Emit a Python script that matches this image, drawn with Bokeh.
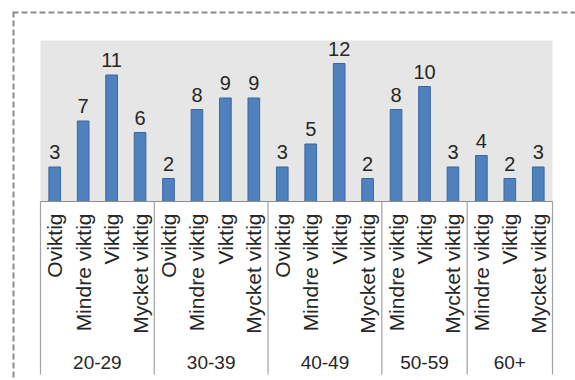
import math
from bokeh.plotting import figure
from bokeh.models import ColumnDataSource, Range1d, BoxAnnotation
from bokeh.core.properties import value
from bokeh.embed import file_html
from bokeh.resources import INLINE

# ---------------- data ----------------
age_groups = ["20-29", "30-39", "40-49", "50-59", "60+"]
labels_20_29 = ["Oviktig", "Mindre viktig", "Viktig", "Mycket viktig"]
counts_20_29 = [3, 7, 11, 6]
labels_30_39 = ["Oviktig", "Mindre viktig", "Viktig", "Mycket viktig"]
counts_30_39 = [2, 8, 9, 9]
labels_40_49 = ["Oviktig", "Mindre viktig", "Viktig", "Mycket viktig"]
counts_40_49 = [3, 5, 12, 2]
labels_50_59 = ["Mindre viktig", "Viktig", "Mycket viktig"]
counts_50_59 = [8, 10, 3]
labels_60 = ["Mindre viktig", "Viktig", "Mycket viktig"]
counts_60 = [4, 2, 3]
y_max = 14

group_labels = [labels_20_29, labels_30_39, labels_40_49, labels_50_59, labels_60]
group_counts = [counts_20_29, counts_30_39, counts_40_49, counts_50_59, counts_60]

# ---------------- flatten ----------------
xs, labs, vals = [], [], []
group_centers, boundaries = [], [-0.5]
i = 0
for labs_g, vals_g in zip(group_labels, group_counts):
    start = i
    for l, v in zip(labs_g, vals_g):
        xs.append(i)
        labs.append(l)
        vals.append(v)
        i += 1
    group_centers.append((start + i - 1) / 2)
    boundaries.append(i - 0.5)
n = len(xs)

# ---------------- layout (pixels) ----------------
W, H = 575, 380
frame_left, frame_top = 12, 11
plot_left_px, plot_right_px = 40, 552
baseline_px, plot_top_px = 201, 40
sep_bottom_px = 374

slot = (plot_right_px - plot_left_px) / n
x_start = -0.5 - (plot_left_px - frame_left) / slot
x_end = n - 0.5 + (W - plot_right_px) / slot
ppu = (baseline_px - plot_top_px) / y_max
y_end = (baseline_px - frame_top) / ppu
y_start = -(H - baseline_px) / ppu
y_sep = -(sep_bottom_px - baseline_px) / ppu

p = figure(width=W, height=H,
           x_range=Range1d(x_start, x_end), y_range=Range1d(y_start, y_end),
           output_backend="svg", toolbar_location=None,
           x_axis_location=None, y_axis_location=None,
           min_border_left=frame_left, min_border_right=0,
           min_border_top=frame_top, min_border_bottom=0,
           outline_line_color=None,
           background_fill_color="white", border_fill_color="white")
p.title.visible = False
p.xgrid.grid_line_color = None
p.ygrid.grid_line_color = None

# plot-area background
p.add_layout(BoxAnnotation(left=-0.5, right=n - 0.5, bottom=0, top=y_max,
                           fill_color="#e6e6e6", fill_alpha=1.0,
                           line_color=None, level="underlay"))

src = ColumnDataSource(dict(x=xs, count=vals, count_str=[str(v) for v in vals],
                            label=labs, zero=[0] * n))

p.vbar(x="x", top="count", bottom=0, width=0.41, source=src,
       fill_color="#4F81BD", line_color="#3B67A0", line_width=1)

p.text(x="x", y="count", text="count_str", source=src,
       text_align="center", text_baseline="alphabetic", y_offset=-15,
       text_font=value("Liberation Sans"), text_font_size="20px",
       text_color="#262626")

# axis line and separators
p.segment(x0=[-0.5], y0=[0], x1=[n - 0.5], y1=[0], line_color="#8c8c8c", line_width=1)
p.segment(x0=boundaries, y0=[0] * len(boundaries), x1=boundaries,
          y1=[y_sep] * len(boundaries), line_color="#a0a0a0", line_width=1.2)

# category labels (rotated)
p.text(x="x", y="zero", text="label", source=src, angle=math.pi / 2,
       text_align="right", text_baseline="middle", y_offset=12,
       text_font=value("Liberation Sans"), text_font_size="21px",
       text_color="#262626")

# group labels
p.text(x=group_centers, y=[0] * len(group_centers), text=age_groups,
       text_align="center", text_baseline="middle", y_offset=161,
       text_font=value("Liberation Sans"), text_font_size="19px",
       text_color="#262626")

# dashed outer border (top and left visible)
p.line(x=[x_start, x_end], y=[y_end, y_end], line_color="#8c8c8c",
       line_width=4, line_dash="6 3")
p.line(x=[x_start, x_start], y=[y_end, y_start], line_color="#8c8c8c",
       line_width=4, line_dash="6 3")

open("out.html", "w").write(file_html(p, INLINE))
